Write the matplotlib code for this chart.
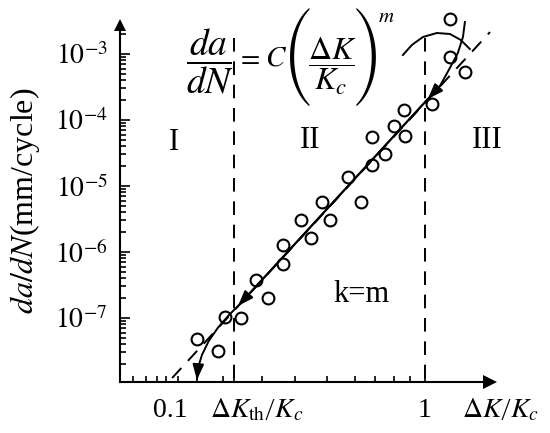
import numpy as np
import matplotlib.pyplot as plt
from matplotlib.ticker import FixedLocator, NullFormatter, NullLocator

plt.rcParams['font.family'] = ['Liberation Serif', 'DejaVu Serif']
plt.rcParams['mathtext.fontset'] = 'stix'

# measured points (dK/Kc, da/dN)
dk = [1.25, 1.25, 1.44, 1.07, 0.83, 0.755, 0.836, 0.62, 0.70, 0.62, 0.50, 0.395,
      0.56, 0.327, 0.424, 0.357, 0.277, 0.277, 0.217, 0.242, 0.164, 0.190, 0.128, 0.154]
dadn = [3.4e-3, 9.0e-4, 5.3e-4, 1.75e-4, 1.42e-4, 8.1e-5, 5.7e-5, 5.5e-5, 3.05e-5,
        2.08e-5, 1.37e-5, 5.7e-6, 5.7e-6, 3.05e-6, 3.05e-6, 1.63e-6, 1.28e-6, 6.6e-7,
        3.77e-7, 2.0e-7, 1.04e-7, 1.0e-7, 4.8e-8, 3.16e-8]

# Paris law line (dashed, full range)
paris_x = [0.102, 1.80]
paris_y = [1.23e-8, 2.15e-3]

# solid curve: region III -> II -> I
curve_x = [1.435, 1.41, 1.347, 1.253, 1.145, 1.027, 0.185, 0.169, 0.154, 0.142, 0.1335, 0.1288, 0.1276]
curve_y = [3.05e-3, 1.81e-3, 1.04e-3, 6.14e-4, 3.27e-4, 2.08e-4, 1.52e-7, 1.07e-7, 7.05e-8,
           4.49e-8, 2.75e-8, 1.75e-8, 1.15e-8]
arrow_at = [(4, 5), (5, 6), (11, 12)]

# small arc near the top right
arc_x = [0.820, 0.889, 0.982, 1.114, 1.253, 1.383, 1.50]
arc_y = [9.66e-4, 1.37e-3, 1.81e-3, 2.08e-3, 2.01e-3, 1.63e-3, 1.19e-3]

k_th = 0.178
k_one = 1.0
vline_top = 1.75e-3

xlim = (0.0637, 1.80)
ylim = (1.07e-8, 2.75e-3)
y_major = [1e-7, 1e-6, 1e-5, 1e-4, 1e-3]
y_labels = [r'$10^{-7}$', r'$10^{-6}$', r'$10^{-5}$', r'$10^{-4}$', r'$10^{-3}$']
x_ticks = [0.0716, 0.0805, 0.0889, 0.0964, 0.1075, 0.1614, 0.178, 0.2296, 0.309,
           0.4127, 0.5315, 0.637, 0.756, 0.873, 1.0]

W, H = 550, 433
fig = plt.figure(figsize=(W / 100, H / 100), dpi=100)
ax = fig.add_axes([120 / W, 51 / H, 370 / W, 357 / H])
ax.set_xscale('log')
ax.set_yscale('log')
ax.set_xlim(*xlim)
ax.set_ylim(*ylim)

for s in ['top', 'right']:
    ax.spines[s].set_visible(False)
for s in ['left', 'bottom']:
    ax.spines[s].set_linewidth(1.5)

# axis arrows
ax.plot(1, 0, '>k', ms=10, mew=0, transform=ax.transAxes, clip_on=False)
ax.plot(0, 1, '^k', ms=9, mew=0, transform=ax.transAxes, clip_on=False)

# ticks
ax.yaxis.set_major_locator(FixedLocator(y_major))
ax.set_yticklabels(y_labels)
ax.yaxis.set_minor_formatter(NullFormatter())
ax.tick_params(axis='y', which='major', direction='in', length=7, width=1.2,
               labelsize=20, pad=9)
ax.tick_params(axis='y', which='minor', direction='in', length=4.5, width=1.2)
ax.xaxis.set_major_locator(FixedLocator(x_ticks))
ax.xaxis.set_minor_locator(NullLocator())
ax.set_xticklabels([''] * len(x_ticks))
ax.tick_params(axis='x', which='major', direction='in', length=4.5, width=1.2)

dash = (0, (7, 5))
# vertical boundaries
ax.plot([k_th, k_th], [vline_top, ylim[0]], ls=dash, lw=1.4, color='k')
ax.plot([k_one, k_one], [vline_top, ylim[0]], ls=dash, lw=1.4, color='k')

# Paris line
ax.plot(paris_x, paris_y, ls=dash, lw=1.4, color='k', clip_on=False)

# solid curve with arrows
ax.plot(curve_x, curve_y, '-', lw=1.4, color='k', clip_on=False)
for a, b in arrow_at:
    ax.annotate('', xy=(curve_x[b], curve_y[b]), xytext=(curve_x[a], curve_y[a]),
                arrowprops=dict(arrowstyle='-|>,head_length=0.55,head_width=0.2',
                                mutation_scale=17, color='k', lw=1.4,
                                shrinkA=0, shrinkB=0))

ax.plot(arc_x, arc_y, '-', lw=1.4, color='k', clip_on=False)

# data points
ax.plot(dk, dadn, 'o', ms=8.5, mfc='none', mec='k', mew=1.5, clip_on=False)

def fx(px):
    return px / W

def fy(py):
    return 1 - py / H

# texts
fig.text(fx(25), fy(201), r'$da/dN$(mm/cycle)', rotation=90, ha='center',
         va='center', fontsize=23)
fig.text(fx(174), fy(150), 'I', ha='center', va='baseline', fontsize=22)
fig.text(fx(310), fy(148), 'II', ha='center', va='baseline', fontsize=22)
fig.text(fx(487), fy(148), 'III', ha='center', va='baseline', fontsize=22)
fig.text(fx(362), fy(302), 'k=m', ha='center', va='baseline', fontsize=22)

fig.text(fx(170), fy(417), '0.1', ha='center', va='baseline', fontsize=20)
fig.text(fx(257), fy(417), r'$\Delta K_{\mathrm{th}}\left/K_c\right.$', ha='center',
         va='baseline', fontsize=20)
fig.text(fx(425), fy(417), '1', ha='center', va='baseline', fontsize=20)
fig.text(fx(501), fy(417), r'$\Delta K\left/K_c\right.$', ha='center',
         va='baseline', fontsize=20)

# formula da/dN = C (dK/Kc)^m, built from pieces
fig.text(fx(210), fy(61.5), r'$\dfrac{da}{dN}$', ha='center', va='center', fontsize=27)
fig.text(fx(247.5), fy(65), r'$=$', ha='center', va='baseline', fontsize=20)
fig.text(fx(276), fy(65), r'$C$', ha='center', va='baseline', fontsize=21)
fig.text(fx(299), fy(56.5), '(', family='STIXSizeFourSym', ha='center',
         va='center', fontsize=23)
fig.text(fx(332), fy(66), r'$\dfrac{\Delta K}{K_c}$', ha='center', va='center',
         fontsize=23)
fig.text(fx(366), fy(56.5), ')', family='STIXSizeFourSym', ha='center',
         va='center', fontsize=23)
fig.text(fx(378), fy(22), r'$m$', ha='left', va='baseline', fontsize=15)

fig.savefig('out.png', dpi=100)
